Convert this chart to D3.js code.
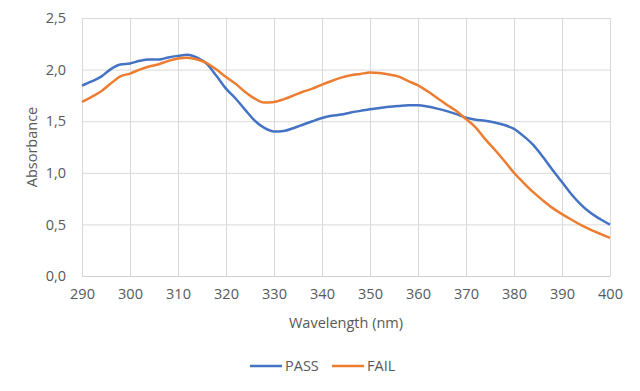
<!DOCTYPE html>
<html>
<head>
<meta charset="utf-8">
<script src="https://cdn.jsdelivr.net/npm/d3@7"></script>
<style>
  body { margin: 0; background: #fff; }
  text { font-family: "Open Sans", "Noto Sans", sans-serif; fill: #595959; }
</style>
</head>
<body>
<svg id="chart" width="640" height="391"></svg>
<script>
// wavelength samples (nm)
const wavelengths = [290, 292, 294, 296, 298, 300, 302, 304, 306, 308, 310, 312, 314, 316, 318, 320,
  322, 324, 326, 328, 330, 332, 334, 336, 338, 340, 342, 344, 346, 348, 350, 352, 354, 356, 358, 360,
  362, 364, 366, 368, 370, 372, 374, 376, 378, 380, 382, 384, 386, 388, 390, 392, 394, 396, 398, 400];

const passValues = [1.845, 1.885, 1.932, 2.005, 2.050, 2.060, 2.085, 2.098, 2.098, 2.118, 2.133, 2.145, 2.115, 2.055, 1.940, 1.816,
  1.720, 1.610, 1.505, 1.435, 1.400, 1.405, 1.432, 1.466, 1.500, 1.531, 1.552, 1.565, 1.585, 1.600, 1.615, 1.627, 1.640, 1.648, 1.654, 1.654,
  1.642, 1.622, 1.598, 1.568, 1.535, 1.515, 1.505, 1.487, 1.463, 1.425, 1.355, 1.270, 1.155, 1.030, 0.910, 0.790, 0.690, 0.610, 0.550, 0.498];

const failValues = [1.686, 1.735, 1.790, 1.866, 1.935, 1.961, 2.000, 2.030, 2.052, 2.085, 2.107, 2.116, 2.098, 2.064, 2.000, 1.928,
  1.862, 1.783, 1.718, 1.680, 1.686, 1.712, 1.748, 1.785, 1.815, 1.855, 1.890, 1.922, 1.945, 1.958, 1.971, 1.967, 1.952, 1.932, 1.888, 1.848,
  1.790, 1.725, 1.660, 1.598, 1.520, 1.440, 1.326, 1.223, 1.115, 1.000, 0.903, 0.812, 0.733, 0.660, 0.600, 0.545, 0.493, 0.448, 0.408, 0.370];

const xTicks = [290, 300, 310, 320, 330, 340, 350, 360, 370, 380, 390, 400];
const yTicks = [0, 0.5, 1.0, 1.5, 2.0, 2.5];

const seriesNames = ['PASS', 'FAIL'];
const seriesColors = ['#4472C4', '#ED7D31'];

const svg = d3.select('#chart');
const margin = {top: 18, right: 30, bottom: 115, left: 82};
const w = +svg.attr('width') - margin.left - margin.right;
const h = +svg.attr('height') - margin.top - margin.bottom;

const x = d3.scaleLinear().domain([290, 400]).range([0, w]);
const y = d3.scaleLinear().domain([0, 2.5]).range([h, 0]);
const fmt = d => d3.format('.1f')(d).replace('.', ',');

const g = svg.append('g').attr('transform', `translate(${margin.left},${margin.top})`);

// horizontal gridlines
g.append('g')
  .call(d3.axisLeft(y).tickValues(yTicks).tickSize(-w).tickFormat(''))
  .call(a => a.select('.domain').remove())
  .call(a => a.selectAll('line').attr('stroke', '#d9d9d9'));

// vertical gridlines
g.append('g')
  .attr('transform', `translate(0,${h})`)
  .call(d3.axisBottom(x).tickValues(xTicks).tickSize(-h).tickFormat(''))
  .call(a => a.select('.domain').remove())
  .call(a => a.selectAll('line').attr('stroke', '#d9d9d9'));

// x axis
g.append('g')
  .attr('transform', `translate(0,${h})`)
  .call(d3.axisBottom(x).tickValues(xTicks).tickSize(0).tickPadding(13))
  .call(a => a.select('.domain').attr('stroke', '#d0d0d0'))
  .call(a => a.selectAll('text').attr('font-size', '14.5px').attr('font-family', null).attr('fill', '#595959'));

// y axis
g.append('g')
  .call(d3.axisLeft(y).tickValues(yTicks).tickSize(0).tickPadding(16).tickFormat(fmt))
  .call(a => a.select('.domain').remove())
  .call(a => a.selectAll('text').attr('font-size', '14.5px').attr('font-family', null).attr('fill', '#595959'));

// lines
const rows = [passValues, failValues];
const line = d3.line()
  .x((d, i) => x(wavelengths[i]))
  .y(d => y(d))
  .curve(d3.curveMonotoneX);

g.selectAll('path.series')
  .data(rows)
  .enter().append('path')
  .attr('class', 'series')
  .attr('d', line)
  .attr('fill', 'none')
  .attr('stroke', (d, i) => seriesColors[i])
  .attr('stroke-width', 2.5)
  .attr('stroke-linejoin', 'round');

// axis titles
svg.append('text')
  .attr('x', margin.left + w / 2)
  .attr('y', 328)
  .attr('text-anchor', 'middle')
  .attr('font-size', '14.5px')
  .text('Wavelength (nm)');

svg.append('text')
  .attr('transform', `translate(37,${margin.top + h / 2}) rotate(-90)`)
  .attr('text-anchor', 'middle')
  .attr('font-size', '14.5px')
  .text('Absorbance');

// legend
const legendX = [250, 332];
const legend = svg.append('g').selectAll('g')
  .data(seriesNames)
  .enter().append('g')
  .attr('transform', (d, i) => `translate(${legendX[i]},366)`);
legend.append('line')
  .attr('x1', 0).attr('x2', 32)
  .attr('stroke', (d, i) => seriesColors[i])
  .attr('stroke-width', 2.5);
legend.append('text')
  .attr('x', 35)
  .attr('dy', '0.35em')
  .attr('font-size', '14.5px')
  .text(d => d);
</script>
</body>
</html>
